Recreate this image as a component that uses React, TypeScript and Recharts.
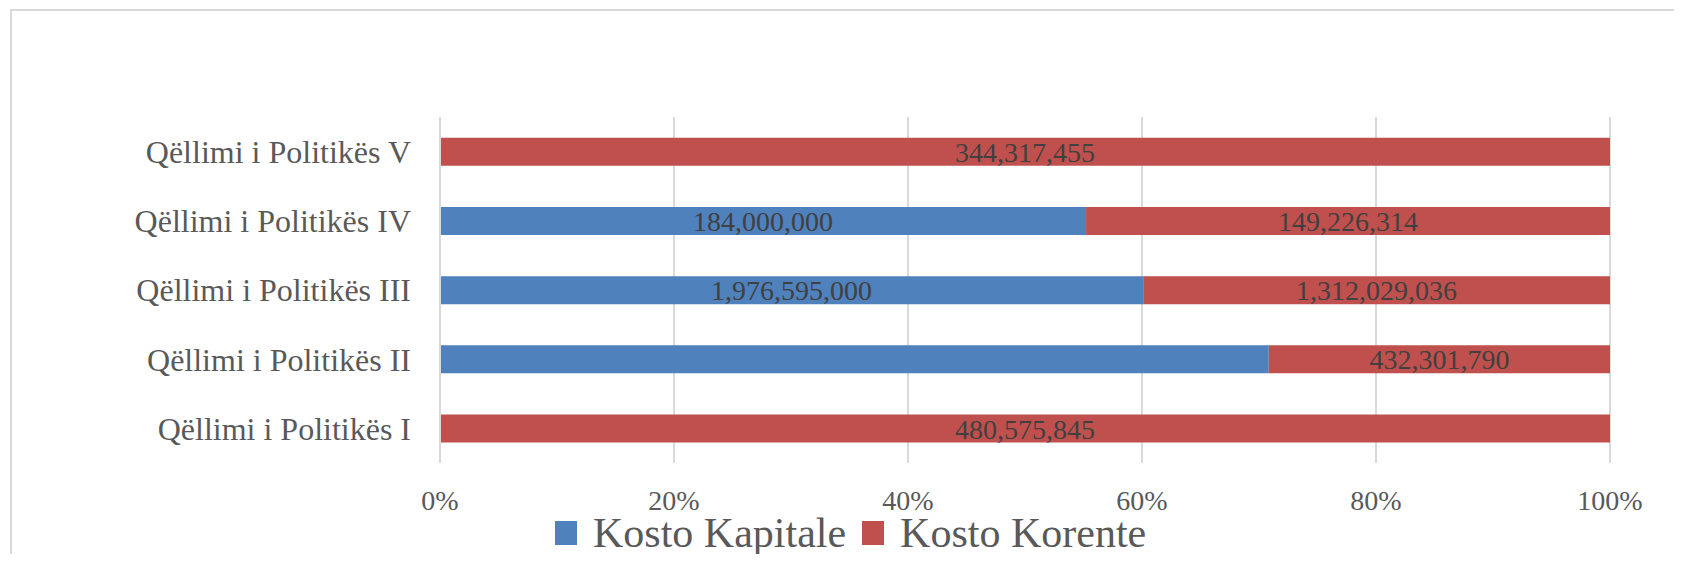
import React from 'react';
import { BarChart, Bar, XAxis, YAxis, CartesianGrid, LabelList } from 'recharts';

const categories = [
  'Qëllimi i Politikës I',
  'Qëllimi i Politikës II',
  'Qëllimi i Politikës III',
  'Qëllimi i Politikës IV',
  'Qëllimi i Politikës V',
];
const kostoKapitale = [0, 1050000000, 1976595000, 184000000, 0];
const kostoKorente = [480575845, 432301790, 1312029036, 149226314, 344317455];
// labels shown on the bars (the reference shows no label on the II capital segment)
const kapitaleLabels: (number | null)[] = [null, null, 1976595000, 184000000, null];
const korenteLabels: (number | null)[] = [480575845, 432301790, 1312029036, 149226314, 344317455];
const xTicks = [0, 0.2, 0.4, 0.6, 0.8, 1];

const BLUE = '#4F81BD';
const RED = '#C0504D';
const FONT = '"Liberation Serif", "Times New Roman", serif';

const data = categories.map((name, i) => ({
  name,
  kapitale: kostoKapitale[i],
  korente: kostoKorente[i],
  kapitaleLabel: kapitaleLabels[i] == null ? null : kapitaleLabels[i]!.toLocaleString('en-US'),
  korenteLabel: korenteLabels[i] == null ? null : korenteLabels[i]!.toLocaleString('en-US'),
}));

const legendItems = [
  { label: 'Kosto Kapitale', color: BLUE },
  { label: 'Kosto Korente', color: RED },
];

const App: React.FC = () => {
  return (
    <div style={{ position: 'relative', width: 1682, height: 562, margin: -8, background: '#fff', overflow: 'hidden' }}>
      <div
        style={{
          position: 'absolute',
          left: 10,
          top: 9,
          width: 1700,
          height: 600,
          borderTop: '2px solid #d9d9d9',
          borderLeft: '2px solid #d9d9d9',
        }}
      />
      <BarChart
        width={1682}
        height={562}
        data={data}
        layout="vertical"
        stackOffset="expand"
        barCategoryGap="30%"
        margin={{ top: 117, right: 72, bottom: 39, left: 0 }}
        style={{ position: 'absolute', left: 0, top: 0, fontFamily: FONT }}
      >
        <CartesianGrid horizontal={false} stroke="#d9d9d9" strokeWidth={2} />
        <XAxis
          type="number"
          domain={[0, 1]}
          ticks={xTicks}
          tickFormatter={(v) => `${Math.round(v * 100)}%`}
          axisLine={false}
          tickLine={false}
          tickMargin={21}
          height={60}
          tick={{ fontSize: 28, fill: '#595959', fontFamily: FONT }}
        />
        <YAxis
          type="category"
          dataKey="name"
          reversed
          width={440}
          axisLine={{ stroke: '#d9d9d9', strokeWidth: 2 }}
          tickLine={false}
          tickMargin={23}
          tick={{ fontSize: 32, fill: '#595959', fontFamily: FONT }}
        />
        <Bar dataKey="kapitale" stackId="a" fill={BLUE} isAnimationActive={false}>
          <LabelList dataKey="kapitaleLabel" position="center" style={{ fontSize: 28, fill: '#404040', fontFamily: FONT }} />
        </Bar>
        <Bar dataKey="korente" stackId="a" fill={RED} isAnimationActive={false}>
          <LabelList dataKey="korenteLabel" position="center" style={{ fontSize: 28, fill: '#404040', fontFamily: FONT }} />
        </Bar>
      </BarChart>
      <div style={{ position: 'absolute', left: 555, top: 513, display: 'flex', alignItems: 'center', fontFamily: FONT }}>
        {legendItems.map((it) => (
          <div key={it.label} style={{ display: 'flex', alignItems: 'center', marginRight: 16 }}>
            <span style={{ width: 22, height: 24, background: it.color, display: 'inline-block', marginRight: 16 }} />
            <span style={{ fontSize: 42, color: '#595959', lineHeight: '40px' }}>{it.label}</span>
          </div>
        ))}
      </div>
    </div>
  );
};

export default App;
